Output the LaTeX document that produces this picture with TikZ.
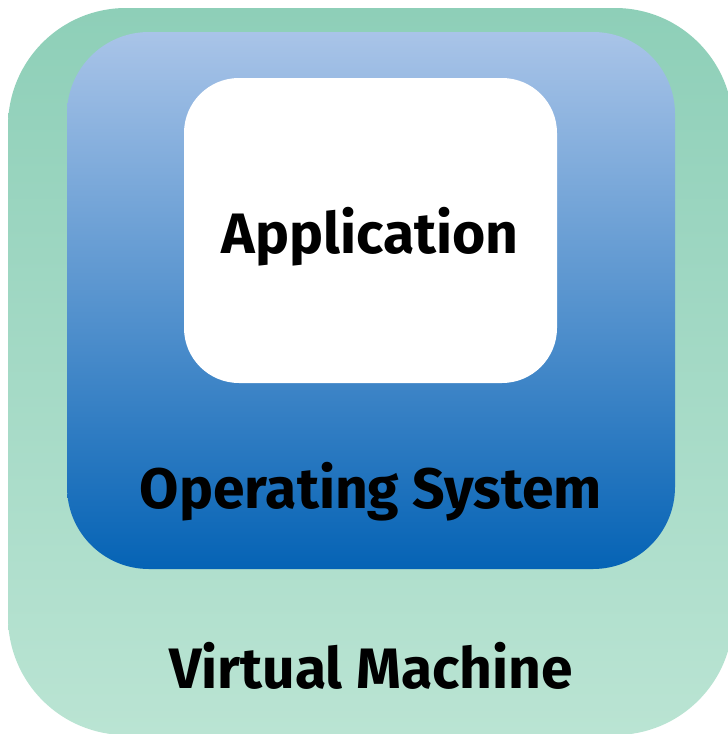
\documentclass[tikz,border=0pt]{standalone}
\usepackage{fontspec}
\setmainfont{Fira Sans}
\begin{document}
\begin{tikzpicture}[x=1pt,y=-1pt,
  box/.style={rounded corners=#1, inner sep=0pt, draw=none},
  lbl/.style={anchor=base, inner sep=0pt, font=\fontsize{57}{64}\selectfont\bfseries}]
\useasboundingbox (0,0) rectangle (728,734);
\clip (0,0) rectangle (728,734);
\node[box=118pt, top color={rgb,255:red,142;green,207;blue,184}, bottom color={rgb,255:red,186;green,228;blue,211},
  minimum width=725pt, minimum height=727pt] (vm) at (370.5,371.5) {};
\node[box=82pt, top color={rgb,255:red,169;green,196;blue,232}, bottom color={rgb,255:red,5;green,99;blue,181},
  minimum width=608pt, minimum height=537pt] (os) at (371,300.5) {};
\node[box=55pt, fill=white, minimum width=373pt, minimum height=305pt] (app) at (370.5,230.5) {};
\node[lbl] (applbl) at (370,253) {Application};
\node[lbl] (oslbl) at (371,508) {Operating System};
\node[lbl] (vmlbl) at (371,688) {Virtual Machine};
\end{tikzpicture}
\end{document}
